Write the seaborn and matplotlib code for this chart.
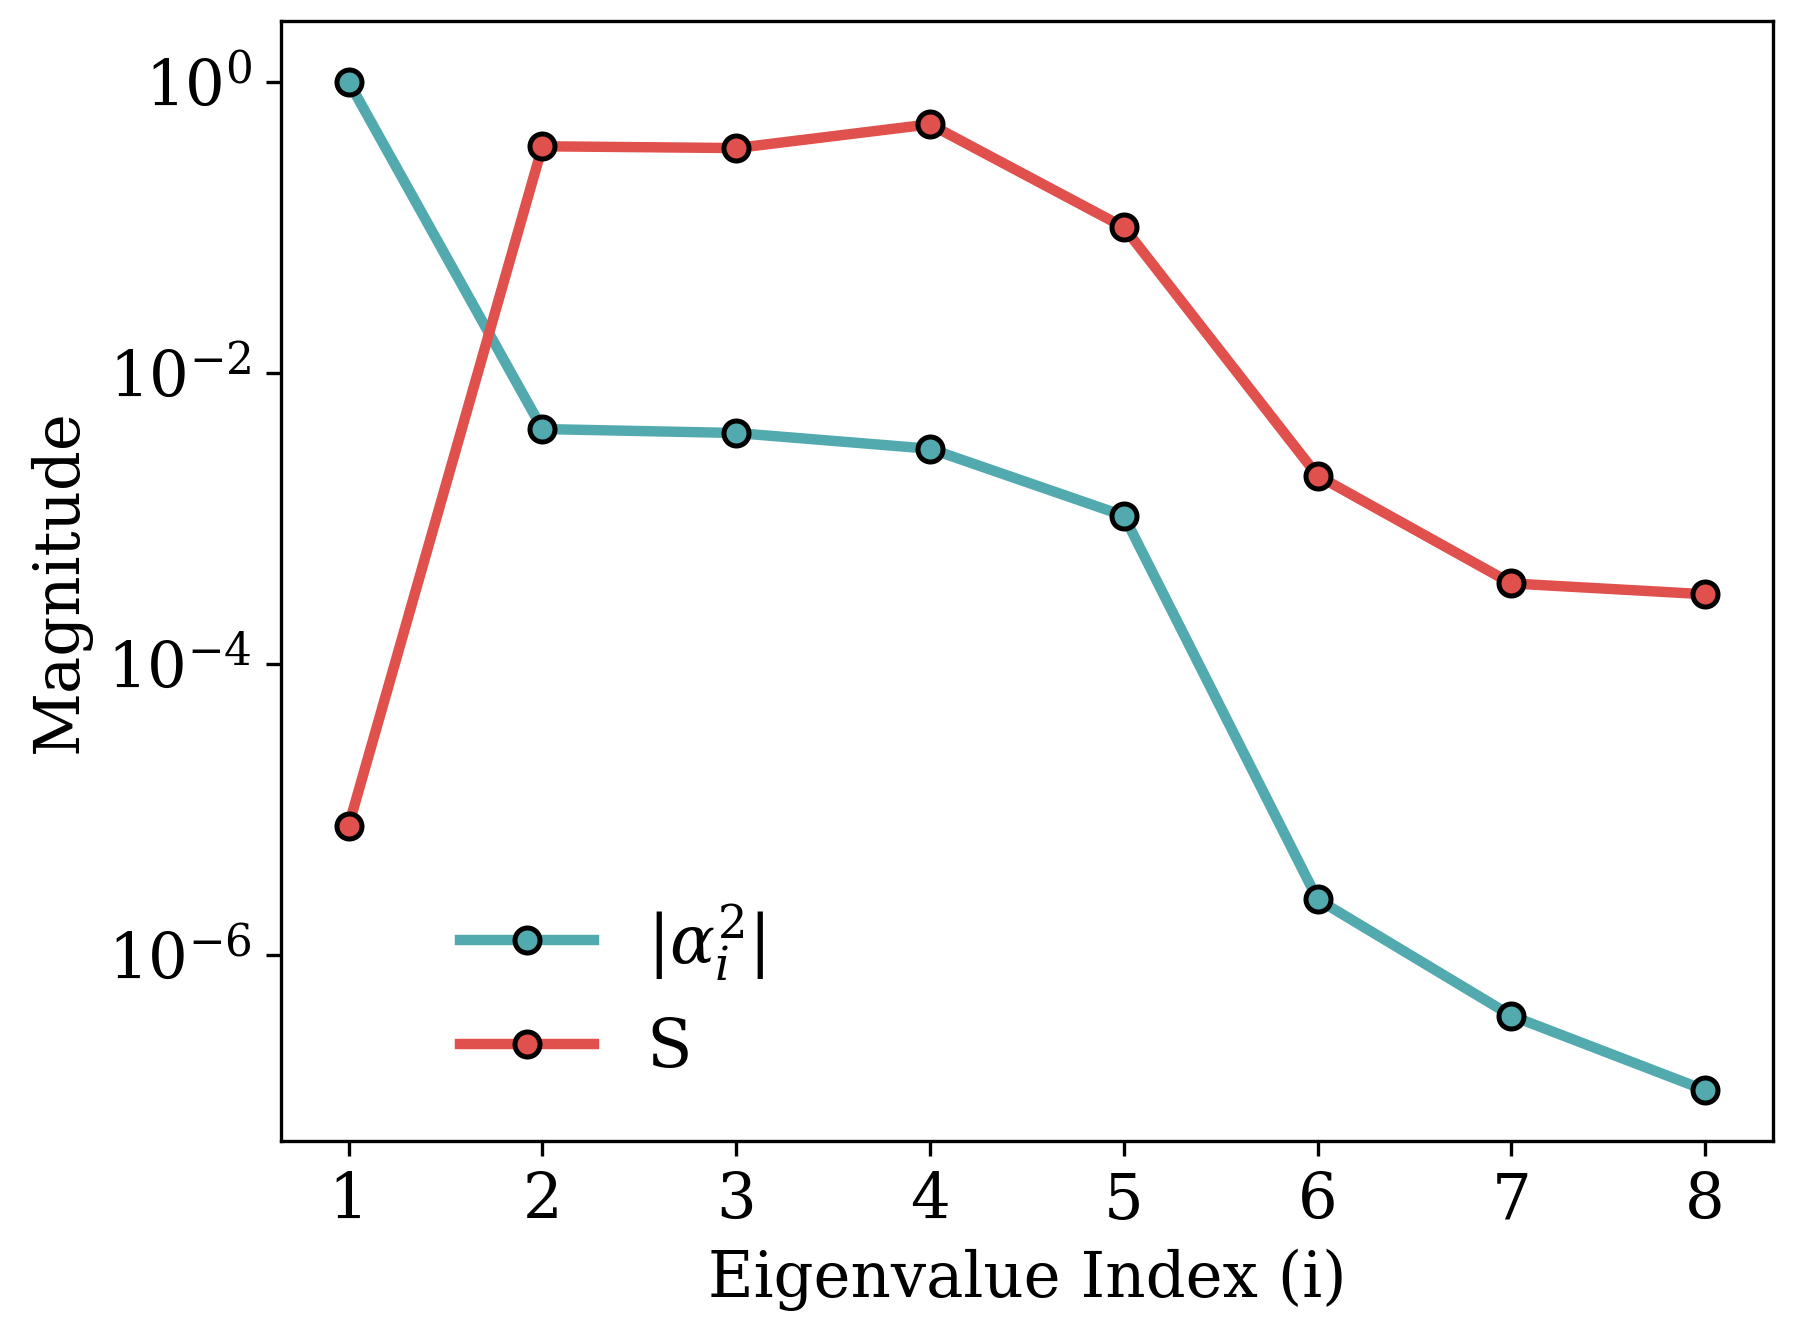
import seaborn as sns
import pandas as pd
import matplotlib.pyplot as plt
from matplotlib.ticker import LogLocator, LogFormatterSciNotation, NullLocator

idx = [1, 2, 3, 4, 5, 6, 7, 8]
alpha_sq = [1.0, 4.1e-3, 3.85e-3, 3.0e-3, 1.04e-3, 2.4e-6, 3.8e-7, 1.17e-7]
s_vals = [7.7e-6, 0.36, 0.35, 0.51, 0.10, 1.96e-3, 3.56e-4, 3.0e-4]

plt.rcParams['font.family'] = ['DejaVu Serif']
plt.rcParams['mathtext.fontset'] = 'dejavuserif'

df_a = pd.DataFrame({'i': idx, 'val': alpha_sq})
df_s = pd.DataFrame({'i': idx, 'val': s_vals})

fig, ax = plt.subplots(figsize=(6.0, 4.45), dpi=300)
sns.lineplot(data=df_a, x='i', y='val', ax=ax, color='#52aaae', marker='o',
             markersize=6, markeredgecolor='black', markeredgewidth=1.2,
             linewidth=2.5, label=r'$|\alpha_i^2|$')
sns.lineplot(data=df_s, x='i', y='val', ax=ax, color='#e0504c', marker='o',
             markersize=6, markeredgecolor='black', markeredgewidth=1.2,
             linewidth=2.5, label='S')
ax.set_yscale('log')
ax.set_ylim(5.2e-8, 2.6)
ax.yaxis.set_major_locator(LogLocator(base=100))
ax.yaxis.set_major_formatter(LogFormatterSciNotation(base=10))
ax.yaxis.set_minor_locator(NullLocator())
ax.set_xticks(idx)
ax.set_xlabel('Eigenvalue Index (i)', fontsize=15)
ax.set_ylabel('Magnitude', fontsize=15)
ax.tick_params(labelsize=15)
ax.legend(frameon=False, fontsize=16, loc='lower left', bbox_to_anchor=(0.08, 0.0))
fig.subplots_adjust(left=0.156, right=0.985, top=0.984, bottom=0.145)
plt.savefig('out.png', dpi=300)
